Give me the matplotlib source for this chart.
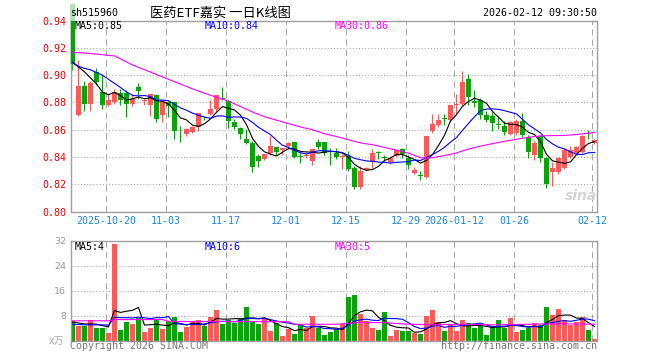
"""
Daily K-line chart for sh515960 (医药ETF嘉实), sina finance style.
Price candles with MA5/MA10/MA30 on top, volume bars (x万) below.
"""

import matplotlib
matplotlib.use('Agg')
import matplotlib.pyplot as plt
import numpy as np


# =============================================================================
# DATA (88 trading days)
# =============================================================================

opens = [0.952, 0.871, 0.892, 0.879, 0.9025, 0.888, 0.8785, 0.880, 0.8867, 0.887,
         0.879, 0.891, 0.8808, 0.8785, 0.8852, 0.8705, 0.8805, 0.8801, 0.8587, 0.8571,
         0.8583, 0.8623, 0.8695, 0.8713, 0.875, 0.8832, 0.881, 0.8657, 0.861, 0.8529,
         0.8505, 0.8407, 0.8387, 0.8426, 0.8473, 0.8452, 0.848, 0.851, 0.8402, 0.8405,
         0.837, 0.8512, 0.8512, 0.8438, 0.8431, 0.8398, 0.8407, 0.8316, 0.8182, 0.8301,
         0.837, 0.8429, 0.8398, 0.8362, 0.8407, 0.8456, 0.8395, 0.8279, 0.8263, 0.8255,
         0.859, 0.8633, 0.8679, 0.8671, 0.8783, 0.8786, 0.8971, 0.8808, 0.8818, 0.8711,
         0.8699, 0.8645, 0.863, 0.8568, 0.8575, 0.8667, 0.8543, 0.8415, 0.8551, 0.839,
         0.8287, 0.8287, 0.8321, 0.8403, 0.8432, 0.8435, 0.857, 0.8501]

highs = [0.952, 0.911, 0.896, 0.896, 0.9056, 0.900, 0.8865, 0.8897, 0.890, 0.889,
         0.8865, 0.8946, 0.8825, 0.8865, 0.8865, 0.882, 0.881, 0.8805, 0.8627, 0.861,
         0.8625, 0.8726, 0.870, 0.882, 0.8853, 0.891, 0.882, 0.868, 0.8618, 0.8602,
         0.8515, 0.8422, 0.8424, 0.8553, 0.848, 0.8468, 0.851, 0.8512, 0.8436, 0.8432,
         0.8458, 0.8533, 0.8513, 0.8468, 0.8468, 0.8425, 0.8445, 0.8333, 0.8333, 0.8325,
         0.8456, 0.8447, 0.8413, 0.8408, 0.8456, 0.8468, 0.8412, 0.8323, 0.8296, 0.8555,
         0.8713, 0.8713, 0.8713, 0.8785, 0.886, 0.9031, 0.9008, 0.889, 0.8835, 0.8736,
         0.8729, 0.8699, 0.8667, 0.8667, 0.8682, 0.8724, 0.8563, 0.8519, 0.8558, 0.8403,
         0.8366, 0.8403, 0.8464, 0.8477, 0.8477, 0.8558, 0.860, 0.8531]

lows = [0.904, 0.870, 0.874, 0.874, 0.8928, 0.875, 0.8775, 0.879, 0.878, 0.869,
        0.8775, 0.8823, 0.878, 0.870, 0.866, 0.8657, 0.869, 0.8529, 0.851, 0.8553,
        0.8575, 0.859, 0.867, 0.8705, 0.8735, 0.8815, 0.8615, 0.8605, 0.8529, 0.8495,
        0.8289, 0.8323, 0.8375, 0.8415, 0.8415, 0.8414, 0.8455, 0.8395, 0.8355, 0.8395,
        0.834, 0.8455, 0.8415, 0.834, 0.8388, 0.8309, 0.8296, 0.8167, 0.8167, 0.8296,
        0.8316, 0.8385, 0.837, 0.835, 0.8398, 0.839, 0.8309, 0.8272, 0.823, 0.8245,
        0.8577, 0.862, 0.8635, 0.8662, 0.8713, 0.8774, 0.878, 0.8765, 0.868, 0.8657,
        0.8588, 0.8608, 0.8558, 0.8558, 0.8558, 0.8543, 0.839, 0.8378, 0.8366, 0.8173,
        0.8188, 0.8272, 0.8311, 0.8395, 0.842, 0.8427, 0.8534, 0.8494]

closes = [0.908, 0.892, 0.879, 0.894, 0.895, 0.8785, 0.882, 0.8877, 0.882, 0.879,
          0.8828, 0.8884, 0.8812, 0.886, 0.868, 0.881, 0.8773, 0.859, 0.858, 0.8608,
          0.8618, 0.8725, 0.869, 0.8753, 0.8852, 0.8828, 0.8667, 0.8623, 0.8566, 0.8505,
          0.8326, 0.837, 0.8424, 0.848, 0.8437, 0.8464, 0.8505, 0.8402, 0.8399, 0.8415,
          0.8456, 0.8473, 0.8431, 0.8435, 0.8402, 0.8402, 0.8309, 0.8182, 0.8296, 0.832,
          0.8431, 0.8426, 0.8395, 0.8395, 0.845, 0.8424, 0.8338, 0.8301, 0.826, 0.8553,
          0.8639, 0.8669, 0.8676, 0.8781, 0.8786, 0.895, 0.8843, 0.8795, 0.8707, 0.8674,
          0.865, 0.8632, 0.8583, 0.8657, 0.8667, 0.8558, 0.844, 0.8501, 0.8395, 0.8205,
          0.8321, 0.839, 0.8452, 0.8452, 0.8472, 0.8551, 0.8566, 0.8526]

# volume in units of 10k (x万)
volumes = [6.3, 4.7, 4.7, 6.5, 4.0, 4.0, 2.5, 31.0, 3.4, 6.0,
           5.3, 7.3, 2.7, 4.0, 6.9, 3.7, 6.4, 7.6, 2.7, 4.3,
           6.3, 6.6, 4.8, 7.6, 9.9, 5.3, 6.6, 5.6, 7.3, 10.8,
           6.0, 5.3, 6.9, 3.0, 5.7, 1.4, 3.6, 2.1, 4.9, 4.0,
           7.7, 4.0, 1.8, 2.7, 3.6, 5.2, 13.8, 14.7, 8.6, 6.3,
           4.0, 3.4, 9.2, 1.4, 3.4, 3.0, 3.0, 2.4, 2.1, 7.9,
           9.9, 6.0, 3.0, 5.0, 3.0, 6.6, 5.6, 4.0, 4.7, 1.7,
           4.7, 6.6, 4.0, 7.3, 2.7, 3.4, 4.0, 5.6, 5.0, 10.8,
           8.2, 10.2, 6.5, 5.0, 6.0, 7.6, 3.4, 0.4]

# price moving averages
ma5 = [0.9094, 0.906, 0.9025, 0.898, 0.8936, 0.8877, 0.8857, 0.8874, 0.8850, 0.8818,
       0.8827, 0.8840, 0.8827, 0.8835, 0.8813, 0.8809, 0.8787, 0.8743, 0.8687, 0.8672,
       0.8634, 0.8624, 0.8644, 0.8679, 0.8728, 0.8770, 0.8758, 0.8745, 0.8707, 0.8638,
       0.8537, 0.8478, 0.8438, 0.8421, 0.8407, 0.8435, 0.8462, 0.8458, 0.8441, 0.8437,
       0.8435, 0.8429, 0.8435, 0.8442, 0.8439, 0.8429, 0.8396, 0.8346, 0.8318, 0.8302,
       0.8308, 0.8331, 0.8374, 0.8393, 0.8419, 0.8418, 0.8400, 0.8382, 0.8355, 0.8375,
       0.8418, 0.8484, 0.8559, 0.8664, 0.8710, 0.8772, 0.8807, 0.8831, 0.8816, 0.8794,
       0.8734, 0.8692, 0.8649, 0.8639, 0.8638, 0.8619, 0.8581, 0.8565, 0.8512, 0.8420,
       0.8372, 0.8362, 0.8353, 0.8364, 0.8417, 0.8463, 0.8499, 0.8513]

ma10 = [0.9095, 0.9065, 0.905, 0.904, 0.902, 0.900, 0.897, 0.894, 0.891, 0.8877,
        0.8852, 0.8848, 0.8851, 0.8843, 0.8816, 0.8818, 0.8813, 0.8785, 0.8761, 0.8743,
        0.8722, 0.8706, 0.8693, 0.8683, 0.8700, 0.8702, 0.8691, 0.8694, 0.8693, 0.8683,
        0.8654, 0.8618, 0.8591, 0.8564, 0.8523, 0.8486, 0.8470, 0.8448, 0.8431, 0.8422,
        0.8435, 0.8446, 0.8446, 0.8442, 0.8438, 0.8432, 0.8412, 0.8390, 0.8380, 0.8371,
        0.8368, 0.8363, 0.8360, 0.8356, 0.8361, 0.8363, 0.8366, 0.8378, 0.8374, 0.8397,
        0.8418, 0.8442, 0.8471, 0.8509, 0.8543, 0.8595, 0.8646, 0.8695, 0.8740, 0.8752,
        0.8753, 0.8749, 0.8740, 0.8728, 0.8716, 0.8677, 0.8636, 0.8607, 0.8576, 0.8529,
        0.8496, 0.8472, 0.8459, 0.8438, 0.8419, 0.8418, 0.8431, 0.8433]

ma30_idx = [0, 2, 4, 6, 7, 8, 10, 12, 14, 16, 18, 20, 22, 24, 26, 28, 30, 32, 34, 36,
            38, 40, 42, 44, 46, 48, 50, 52, 54, 56, 58, 59, 60, 62, 64, 66, 68, 70, 72,
            74, 76, 78, 80, 82, 84, 86, 87]
ma30_val = [0.9168, 0.9163, 0.9155, 0.9145, 0.9142, 0.912, 0.9075, 0.904, 0.9005, 0.897,
            0.8935, 0.890, 0.8868, 0.8838, 0.881, 0.877, 0.873, 0.8695, 0.867, 0.8645,
            0.862, 0.860, 0.857, 0.855, 0.8526, 0.8503, 0.849, 0.847, 0.845, 0.8428,
            0.8395, 0.839, 0.8395, 0.841, 0.843, 0.8458, 0.848, 0.8498, 0.8515,
            0.853, 0.8545, 0.8555, 0.8557, 0.8558, 0.8565, 0.8575, 0.858]

# volume moving averages
vol_ma5 = [5.9, 5.6, 5.3, 5.3, 5.24, 4.78, 4.34, 9.6, 8.98, 9.38,
           9.64, 10.6, 4.94, 5.06, 5.24, 4.92, 4.74, 5.72, 5.46, 4.94,
           5.46, 5.5, 4.94, 5.92, 7.04, 6.84, 6.84, 7.0, 6.94, 7.12,
           7.26, 7.0, 7.26, 6.4, 5.38, 4.46, 4.12, 3.16, 3.54, 3.2,
           4.46, 4.54, 4.48, 4.04, 3.96, 3.46, 5.42, 8.0, 9.18, 9.72,
           9.48, 7.4, 6.3, 4.86, 4.28, 4.08, 4.0, 2.64, 2.78, 3.68,
           5.06, 5.66, 5.78, 6.36, 5.38, 4.72, 4.64, 4.84, 4.78, 4.52,
           4.14, 4.34, 4.34, 4.86, 5.06, 4.8, 4.28, 4.6, 4.14, 5.76,
           6.72, 7.96, 8.14, 8.14, 7.18, 7.06, 5.7, 4.48]

vol_ma10 = [5.2, 5.1, 5.0, 5.0, 5.0, 5.0, 4.9, 7.4, 7.3, 7.31,
            7.21, 7.47, 7.27, 7.02, 7.31, 7.28, 7.67, 5.33, 5.26, 5.09,
            5.19, 5.12, 5.33, 5.69, 5.99, 6.15, 6.17, 5.97, 6.43, 7.08,
            7.05, 6.92, 7.13, 6.67, 6.25, 5.86, 5.56, 5.21, 4.97, 4.29,
            4.46, 4.33, 3.82, 3.78, 3.58, 3.96, 4.98, 6.24, 6.61, 6.84,
            6.47, 6.41, 7.15, 7.02, 7.0, 6.78, 5.7, 4.47, 3.82, 3.98,
            4.57, 4.83, 4.21, 4.57, 4.53, 4.89, 5.15, 5.31, 5.57, 4.95,
            4.43, 4.49, 4.59, 4.82, 4.79, 4.47, 4.31, 4.47, 4.5, 5.41,
            5.76, 6.12, 6.37, 6.14, 6.47, 6.89, 6.83, 6.31]

vol_ma30_idx = [0, 6, 7, 15, 16, 36, 37, 44, 46, 48, 52, 55, 60, 65, 70, 76, 79, 84, 87]
vol_ma30_val = [6.3, 6.3, 6.7, 6.7, 6.1, 6.0, 5.2, 5.2, 5.5, 5.8, 5.7, 5.3, 5.0, 5.2,
                5.0, 5.2, 5.3, 5.3, 5.2]

date_bars = [6, 16, 26, 36, 46, 56, 64, 74, 87]
date_labels = ['2025-10-20', '11-03', '11-17', '12-01', '12-15', '12-29',
               '2026-01-12', '01-26', '02-12']

price_ticks = [0.80, 0.82, 0.84, 0.86, 0.88, 0.90, 0.92, 0.94]
vol_ticks = [8, 16, 24, 32]


# =============================================================================
# STYLE
# =============================================================================

W, H = 660, 360
RED = '#ff5858'
GREEN = '#08a508'
GRID = '#a8a8a8'
FRAME = '#a0a0a0'
MONO = 7.2

plt.rcParams['font.family'] = ['DejaVu Sans Mono', 'Noto Sans CJK SC']


def fx(px):
    return px / W


def fy(py):
    return 1 - py / H


def style_axes(ax):
    for s in ax.spines.values():
        s.set_color(FRAME)
        s.set_linewidth(1.0)
    ax.grid(axis='x', color=GRID, lw=0.75, linestyle=(0, (6, 4)))
    ax.grid(axis='y', color=GRID, lw=0.75, linestyle=(0, (1, 2)))
    ax.set_axisbelow(True)


# =============================================================================
# PLOT
# =============================================================================

def plot_kline(output_path='out.png'):
    fig = plt.figure(figsize=(6.6, 3.6), dpi=100)
    ax = fig.add_axes([fx(70.5), fy(211.5), (597 - 70.5) / W, (211.5 - 20.7) / H])
    axv = fig.add_axes([fx(70.5), fy(340.5), (597 - 70.5) / W, (340.5 - 240.5) / H])

    x = np.arange(len(closes))
    o = np.array(opens)
    c = np.array(closes)
    colors = np.where(c >= o, RED, GREEN)
    grid_pos = [b - 0.42 for b in date_bars]

    # ---- price panel ----
    ax.vlines(x, lows, highs, colors=colors, lw=0.8, zorder=2)
    body_lo = np.minimum(o, c)
    body_h = np.maximum(np.abs(c - o), 0.0007)
    ax.bar(x, body_h, bottom=body_lo, width=0.83, color=colors, linewidth=0, zorder=3)
    # first candle pokes above the frame, drawn faded there
    ax.bar(x[0], body_h[0], bottom=body_lo[0], width=0.83, color=GREEN, alpha=0.3,
           linewidth=0, zorder=1, clip_on=False)

    ax.plot(x, ma5, color='black', lw=0.8, zorder=4)
    ax.plot(x, ma10, color='#0000ff', lw=0.8, zorder=4)
    ax.plot(ma30_idx, ma30_val, color='#ff00ff', lw=0.8, zorder=4)

    ax.set_xlim(-0.33, 87.42)
    ax.set_ylim(0.80, 0.94)
    ax.set_yticks(price_ticks, [f'{v:.2f}' for v in price_ticks])
    ax.set_xticks(grid_pos, date_labels)
    ax.tick_params(axis='y', length=0, pad=3.2, labelcolor='#ee0000', labelsize=MONO)
    ax.tick_params(axis='x', length=0, pad=3, labelcolor='#1a86e0', labelsize=MONO)
    style_axes(ax)

    # ---- volume panel ----
    axv.bar(x, volumes, width=0.83, color=colors, linewidth=0, zorder=2)
    axv.plot(x, vol_ma5, color='black', lw=0.8, zorder=4)
    axv.plot(x, vol_ma10, color='#0000ff', lw=0.8, zorder=4)
    axv.plot(vol_ma30_idx, vol_ma30_val, color='#ff00ff', lw=0.8, zorder=4)

    axv.set_xlim(-0.33, 87.42)
    axv.set_ylim(0, 32)
    axv.set_yticks(vol_ticks, [str(v) for v in vol_ticks])
    axv.set_xticks(grid_pos, [''] * len(grid_pos))
    axv.tick_params(axis='y', length=0, pad=3.2, labelcolor='#999999', labelsize=6.8)
    axv.tick_params(axis='x', length=0)
    for lab in axv.get_yticklabels():
        lab.set_fontfamily('DejaVu Sans')
    style_axes(axv)

    # ---- texts ----
    fig.text(fx(70), fy(13), 'sh515960', fontsize=MONO, va='center')
    fig.text(fx(150), fy(13), '医药ETF嘉实 一日K线图', fontsize=9.5, va='center',
             family=['Noto Sans CJK SC', 'DejaVu Sans'])
    fig.text(fx(597), fy(13), '2026-02-12 09:30:50', fontsize=MONO, ha='right', va='center')

    fig.text(fx(75), fy(25.7), f'MA5:{ma5[-1]:.2f}', fontsize=MONO, va='center', color='black')
    fig.text(fx(205), fy(25.7), f'MA10:{ma10[-1]:.2f}', fontsize=MONO, va='center', color='#0000ff')
    fig.text(fx(335), fy(25.7), f'MA30:{ma30_val[-1]:.2f}', fontsize=MONO, va='center', color='#ff00ff')

    fig.text(fx(75), fy(246.7), f'MA5:{int(vol_ma5[-1])}', fontsize=MONO, va='center', color='black')
    fig.text(fx(205), fy(246.7), f'MA10:{int(vol_ma10[-1])}', fontsize=MONO, va='center', color='#0000ff')
    fig.text(fx(335), fy(246.7), f'MA30:{int(vol_ma30_val[-1])}', fontsize=MONO, va='center', color='#ff00ff')

    fig.text(fx(49), fy(341), 'x万', fontsize=7, va='center', color='#aaaaaa',
             family=['DejaVu Sans', 'Noto Sans CJK SC'])
    fig.text(fx(70), fy(346), 'Copyright 2026 SINA.COM', fontsize=MONO, va='center', color='#777777')
    fig.text(fx(597), fy(346), 'http://finance.sina.com.cn', fontsize=MONO, ha='right',
             va='center', color='#777777')

    # faint sina watermark in the price panel
    fig.text(fx(581), fy(196), 'sina', fontsize=10, ha='center', va='center', color='#d4d4d4',
             style='italic', weight='bold', family='DejaVu Sans')

    fig.savefig(output_path, dpi=100)
    plt.close(fig)


if __name__ == "__main__":
    plot_kline('out.png')
